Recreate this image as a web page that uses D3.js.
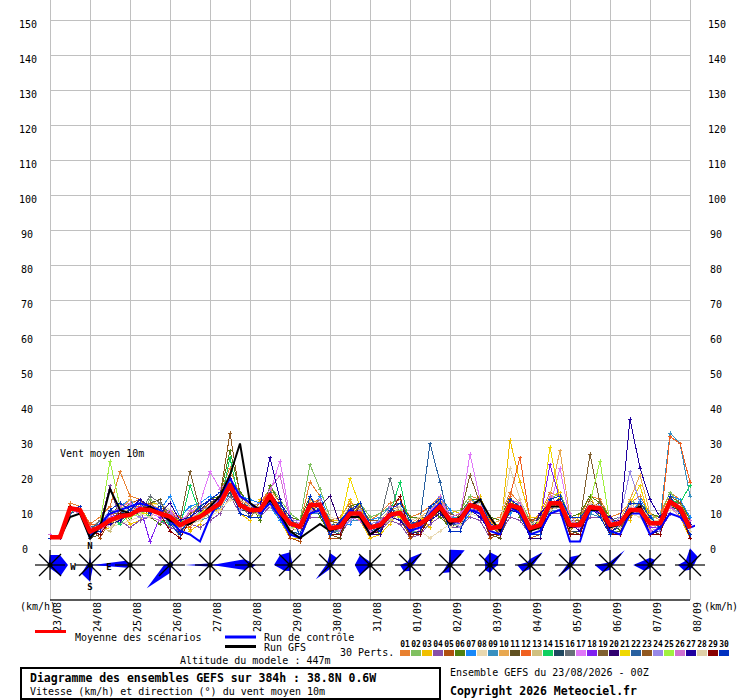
<!DOCTYPE html>
<html>
<head>
<meta charset="utf-8">
<script src="https://cdn.jsdelivr.net/npm/d3@7"></script>
<style>
body { margin: 0; background: #fff; }
svg { display: block; font-family: "DejaVu Sans Mono", monospace; }
</style>
</head>
<body>
<svg id="chart" width="740" height="700"></svg>
<script>
// echeances toutes les 6h, de 0 a 384h
var step = 6;
var dates = ['23/08','24/08','25/08','26/08','27/08','28/08','29/08','30/08','31/08',
             '01/09','02/09','03/09','04/09','05/09','06/09','07/09','08/09'];
var yTicks = [0,10,20,30,40,50,60,70,80,90,100,110,120,130,140,150];

// moyenne des scenarios (km/h)
var meanWind = [2.2, 2.2,10.5,10,3.8, 5.2,7.1,8.1,8.6, 10.2,10,9,8.1, 5.7,7.1,8.1,10, 11.9,17.1,11.4,10, 10,14.3,9.5,6.2, 5.2,11.4,11.4,4.8, 5.2,9,9,5, 5.7,8.6,9.2,5.2, 6,8.1,11,7.1, 7.1,11.4,10.5,4.8, 5.2,11.4,10.5,4.8, 5.7,11.9,11.9,5.7, 5.7,10.8,10.5,5.7, 6.2,10,10,6.2, 6.2,12.4,10.5,4.8];
var controlWind = [2, 2,10,10,2, 6,9,10,11, 12,11,10,7, 4,3,1,8, 13,19,14,12, 9,12,8,3, 2,9,10,4, 6,10,8,3, 5,8,9,4, 5,9,12,6, 7,10,9,4, 3,11,9,3, 4,9,10,1, 1,10,11,4, 3,9,9,3, 5,9,8,5, 6,13,10,4];
var gfsWind = [2, 2,8,9,2, 5,16,10,9, 10,11,9,7, 6,6,8,11, 14,20,29,12, 10,13,9,4, 2,4,6,4, 5,8,8,3, 5,9,9,5, 6,8,10,6, 8,11,13,8, 4,11,10,4, 5,11,11,5, 6,10,10,5, 6,9,11,6, 6,12,10,5];

// 30 perturbations
var perts = [
 [3, 2,12,11,6, 8,11,21,14, 13,10,11,9, 7,9,11,13, 15,22,14,11, 12,16,12,8, 6,18,14,7, 8,12,11,7, 9,12,13,8, 9,11,14,9, 10,14,13,7, 8,15,12,6, 9,15,14,8, 8,14,13,8, 9,12,14,9, 8,15,13,6],
 [2, 3,9,10,3, 4,10,6,12, 8,13,11,5, 4,10,12,9, 13,18,15,12, 8,17,13,9, 7,23,16,8, 3,7,12,8, 9,11,8,4, 4,6,13,9, 10,14,9,8, 7,9,13,7, 4,13,15,8, 8,12,8,4, 4,13,11,7, 9,15,12,8],
 [2, 2,11,9,4, 4,5,10,6, 7,12,12,10, 8,4,6,11, 9,20,9,7, 13,12,7,2, 2,8,14,7, 7,13,7,2, 3,6,10,6, 8,5,14,10, 9,8,14,7, 3,30,18,8, 8,14,15,4, 9,14,8,4, 8,7,13,4, 7,14,8,2],
 [2, 2,10,11,4, 6,17,7,5, 7,8,7,5, 4,6,5,7, 9,14,9,8, 8,11,8,4, 3,8,8,3, 3,7,7,3, 4,7,6,2, 3,6,8,5, 5,8,7,2, 3,8,7,3, 3,9,9,4, 4,8,8,3, 3,9,8,4, 4,9,8,3],
 [2, 3,11,10,5, 2,7,9,12, 13,10,9,9, 3,7,8,9, 13,20,11,9, 10,12,9,2, 1,12,11,2, 2,9,10,3, 3,10,9,2, 4,9,11,6, 8,12,11,2, 3,11,10,2, 3,12,11,3, 4,11,12,3, 4,10,11,3, 4,12,10,2],
 [2, 2,10,9,3, 6,9,11,7, 12,8,6,10, 7,5,10,13, 14,27,15,12, 7,17,12,8, 7,14,8,3, 6,11,12,6, 3,11,12,8, 8,10,8,5, 9,13,13,8, 7,14,8,3, 8,9,14,8, 9,14,12,8, 4,11,12,9, 8,11,13,7],
 [2, 2,9,10,4, 5,8,11,13, 9,12,10,14, 8,11,12,14, 10,15,14,13, 12,11,7,3, 4,9,14,7, 6,6,10,7, 8,11,7,3, 6,10,14,10, 5,9,12,7, 5,9,11,6, 7,10,13,8, 7,9,12,7, 6,8,13,9, 4,14,13,8],
 [3, 2,10,11,5, 7,5,6,7, 8,11,12,10, 7,9,10,8, 10,13,12,10, 11,11,11,7, 5,9,12,8, 7,11,8,4, 5,7,10,7, 4,2,4,6, 8,9,8,6, 7,10,11,6, 7,10,13,7, 6,9,8,4, 8,9,8,4, 7,10,9,6],
 [2, 2,11,10,4, 4,6,10,11, 12,9,8,6, 6,8,7,8, 13,15,10,11, 11,12,11,7, 6,9,9,4, 4,7,7,4, 8,11,11,6, 5,10,9,8, 8,13,12,7, 5,10,9,4, 5,10,10,5, 5,9,8,5, 5,12,11,7, 7,32,29,14],
 [2, 3,10,10,4, 7,9,10,13, 11,12,10,9, 5,6,9,11, 11,19,13,11, 9,16,12,7, 4,13,12,5, 6,11,10,6, 7,10,11,6, 8,10,13,8, 6,13,11,6, 7,13,11,6, 7,14,27,8, 7,12,11,7, 7,13,20,9, 7,13,12,6],
 [2, 2,10,9,2, 3,7,8,10, 10,12,13,6, 3,7,8,10, 12,18,12,11, 10,13,10,3, 2,11,11,3, 2,9,9,3, 4,9,9,3, 4,8,10,7, 5,11,10,3, 2,10,11,3, 4,12,12,4, 3,12,10,3, 4,10,10,4, 3,12,10,2],
 [2, 2,11,10,6, 6,9,8,11, 11,9,10,9, 8,5,9,12, 11,16,13,9, 12,15,9,5, 6,12,13,6, 4,10,8,3, 7,8,11,6, 5,9,10,6, 8,10,11,7, 5,14,25,7, 7,10,13,7, 5,12,9,4, 7,9,11,8, 5,31,29,18],
 [2, 2,10,10,4, 5,4,8,8, 11,11,8,7, 2,8,9,11, 10,17,12,9, 9,14,11,5, 4,12,12,6, 6,8,9,5, 5,7,8,4, 7,7,12,8, 6,12,9,4, 6,12,9,6, 5,13,11,7, 5,12,9,5, 7,9,9,5, 7,11,11,6],
 [2, 2,9,11,3, 5,8,6,9, 10,8,7,6, 5,17,9,10, 11,25,11,10, 10,15,10,5, 5,12,11,5, 5,8,9,5, 6,9,18,5, 6,8,10,6, 7,12,11,5, 6,11,10,4, 6,12,12,5, 5,11,11,5, 6,10,10,6, 6,13,12,17],
 [2, 2,10,10,3, 4,6,7,9, 9,10,10,7, 4,6,8,9, 12,15,10,10, 10,13,9,4, 3,10,10,4, 3,9,10,4, 4,10,9,4, 3,8,10,6, 5,10,10,3, 3,10,11,3, 4,11,12,4, 4,11,11,4, 5,11,9,4, 4,11,10,3],
 [2, 2,10,10,4, 7,6,7,11, 9,14,12,9, 6,9,10,8, 14,14,12,8, 11,14,11,7, 6,10,9,3, 5,10,11,6, 7,19,8,3, 7,9,12,6, 8,10,9,4, 6,12,11,6, 8,11,10,5, 7,10,9,7, 8,9,9,5, 7,11,12,6],
 [2, 2,10,10,4, 4,6,9,10, 11,9,8,10, 7,9,12,21, 16,19,13,11, 9,15,24,8, 6,12,10,4, 6,10,8,4, 5,8,10,6, 4,10,12,9, 8,26,13,6, 4,10,11,6, 7,11,22,7, 7,12,9,5, 7,11,9,5, 7,13,11,6],
 [3, 2,11,10,5, 6,8,9,8, 11,1,8,7, 5,7,9,11, 12,18,12,9, 11,14,9,5, 6,11,12,6, 4,8,10,4, 7,9,9,6, 5,9,10,8, 6,11,9,5, 6,10,11,4, 7,23,13,5, 5,10,9,7, 7,10,11,5, 5,11,11,6],
 [2, 2,10,11,4, 6,9,9,8, 9,11,10,9, 7,21,10,9, 13,20,11,9, 11,12,9,5, 4,10,13,6, 6,11,8,4, 5,8,11,6, 7,7,10,9, 8,20,12,6, 6,12,9,4, 5,11,13,7, 7,26,12,7, 5,9,11,7, 7,13,9,4],
 [2, 2,10,10,3, 5,7,9,10, 10,11,9,8, 4,7,8,10, 13,19,12,11, 10,14,10,3, 2,11,11,14, 6,9,10,3, 3,10,9,3, 4,9,12,7, 7,12,10,3, 3,11,10,2, 2,12,12,3, 3,11,11,3, 7,10,10,3, 4,12,10,2],
 [2, 2,10,9,4, 5,8,7,10, 9,9,10,8, 6,6,9,11, 11,17,10,11, 10,15,11,6, 4,10,12,6, 6,19,11,4, 5,9,8,4, 7,9,10,6, 6,10,11,6, 6,13,9,4, 7,28,13,7, 5,10,11,7, 5,12,17,7, 5,11,11,4],
 [2, 3,9,10,5, 6,7,9,10, 9,11,10,8, 7,8,8,9, 11,16,12,11, 9,15,11,5, 4,12,10,6, 6,10,8,4, 5,10,10,6, 7,29,18,6, 6,12,11,4, 6,10,9,6, 5,13,11,5, 7,10,11,5, 5,9,11,7, 7,11,9,6],
 [2, 2,11,10,5, 5,6,10,11, 10,12,9,7, 5,9,10,12, 14,32,14,9, 12,13,8,4, 5,9,12,7, 6,8,11,7, 7,8,7,3, 8,8,9,5, 9,11,12,6, 3,12,11,7, 8,11,10,4, 7,13,9,8, 5,8,12,7, 5,14,12,6],
 [2, 2,10,11,4, 6,10,10,9, 8,8,7,9, 6,6,10,11, 13,16,10,11, 12,12,9,7, 7,10,9,6, 4,7,10,6, 7,8,11,6, 5,10,10,8, 5,10,11,6, 4,10,12,6, 7,11,10,7, 5,12,9,5, 8,21,12,7, 4,11,9,6],
 [2, 3,10,10,4, 6,24,11,8, 9,10,9,8, 7,7,9,10, 12,18,11,10, 10,14,9,5, 5,12,11,5, 5,10,9,5, 6,9,10,5, 6,9,11,7, 7,12,10,6, 5,11,9,5, 6,11,12,6, 6,12,24,6, 6,10,9,6, 7,12,10,4],
 [3, 2,10,9,5, 3,8,11,12, 9,8,7,10, 5,10,7,9, 14,17,14,12, 9,16,20,7, 4,9,13,5, 5,8,7,4, 4,11,11,7, 5,8,14,8, 9,12,12,6, 4,13,12,5, 6,14,11,9, 4,10,11,7, 5,12,9,4, 5,11,8,7],
 [2, 2,10,10,4, 6,6,7,10, 13,11,9,12, 7,8,10,13, 13,17,12,9, 11,25,13,5, 4,11,9,3, 6,9,12,6, 5,8,7,4, 7,7,9,6, 8,10,8,4, 5,10,9,3, 9,12,13,6, 4,11,9,8, 6,36,22,13, 8,12,11,6],
 [2, 3,10,10,4, 6,5,8,11, 9,8,10,8, 6,6,7,9, 10,16,13,11, 11,12,9,5, 4,12,9,4, 7,8,9,6, 5,8,11,7, 8,9,10,5, 6,10,12,4, 5,22,13,6, 7,10,11,5, 6,12,11,5, 5,11,12,7, 7,12,11,4],
 [2, 2,11,10,4, 3,7,9,9, 10,10,9,4, 2,7,8,10, 12,17,11,10, 10,14,10,3, 2,11,11,3, 3,9,9,3, 4,9,14,3, 3,8,11,7, 7,11,10,3, 3,11,10,3, 3,12,12,3, 3,11,10,3, 3,10,11,3, 3,12,10,2],
 [2, 2,10,11,3, 4,10,12,10, 12,9,11,6, 3,8,11,13, 15,17,9,8, 8,13,12,8, 3,14,9,3, 7,10,12,6, 4,10,12,7, 5,11,13,4, 4,11,13,6, 5,13,11,3, 3,13,14,8, 8,11,8,3, 6,12,12,8, 5,14,9,3]
];
var pertColors = ['#e88030','#80c060','#f0c000','#8850a8','#b05010','#508010','#1888f8','#e8d8b0',
                  '#3890c0','#e8a850','#605020','#f06020','#d0c080','#10d060','#204860','#687078',
                  '#e078f8','#8020f0','#806030','#300070','#f0d800','#2860a0','#905820','#9888e8',
                  '#a0f040','#d070d0','#2000a0','#e0d0a8','#880000','#0030c0'];

// frequence des directions (%) a 00h chaque jour : N, NE, E, SE, S, SW, W, NW
var roseFreq = [
 [25,35,45,38,8,0,0,5],
 [20,5,8,10,42,30,8,5],
 [5,3,5,3,3,10,92,15],
 [10,10,8,5,20,82,15,5],
 [3,3,8,3,3,5,62,5],
 [8,5,15,8,5,18,95,20],
 [32,8,5,5,15,20,40,35],
 [30,25,8,3,10,50,10,10],
 [8,3,8,3,5,35,38,35],
 [18,42,8,3,15,22,25,10],
 [38,52,5,3,18,28,8,5],
 [32,30,20,12,20,18,12,20],
 [15,45,8,3,10,25,32,10],
 [20,35,8,3,8,42,8,5],
 [8,52,8,3,12,25,38,8],
 [18,18,8,3,8,20,42,18],
 [42,28,10,8,12,20,30,15]
];

var svg = d3.select('#chart');
var x = d3.scaleLinear().domain([0, 384]).range([50, 690]);
var y = d3.scaleLinear().domain([0, 150]).range([545, 20]);
var rScale = d3.scaleLinear().domain([0, 100]).range([0, 40]);
var dayHours = dates.map(function(d, i) { return i * 24; });
var roseY = 565;

// grille
var gridY = svg.append('g').attr('transform', 'translate(50,0)')
    .call(d3.axisLeft(y).tickValues(yTicks).tickSize(-640).tickFormat(''));
gridY.select('.domain').remove();
gridY.selectAll('line').attr('stroke', '#c0c0c0');

var gridX = svg.append('g').attr('transform', 'translate(0,600)')
    .call(d3.axisBottom(x).tickValues(dayHours).tickSize(-600).tickFormat(''));
gridX.select('.domain').remove();
gridX.selectAll('line').attr('stroke', '#c0c0c0');

svg.append('line').attr('x1', 50).attr('x2', 690).attr('y1', 600).attr('y2', 600)
    .attr('stroke', '#222').attr('stroke-width', 1.5);

// graduations gauche et droite
var axL = svg.append('g').attr('transform', 'translate(50,0)')
    .call(d3.axisLeft(y).tickValues(yTicks).tickSize(0));
axL.select('.domain').remove();
axL.selectAll('text')
    .attr('text-anchor', 'start')
    .attr('dy', null).attr('y', 7.5)
    .attr('x', function(d) { return d >= 100 ? -31 : (d >= 10 ? -29 : -28); })
    .style('font-family', '"DejaVu Sans Mono", monospace').style('font-size', '10px').attr('fill', '#000');

var axR = svg.append('g').attr('transform', 'translate(690,0)')
    .call(d3.axisRight(y).tickValues(yTicks).tickSize(0));
axR.select('.domain').remove();
axR.selectAll('text')
    .attr('text-anchor', 'start')
    .attr('dy', null).attr('y', 7.5)
    .attr('x', function(d) { return d >= 100 ? 18 : 20; })
    .style('font-family', '"DejaVu Sans Mono", monospace').style('font-size', '10px').attr('fill', '#000');

// dates
svg.append('g').selectAll('text').data(dates).enter().append('text')
    .attr('transform', function(d, i) { return 'translate(' + (x(dayHours[i]) + 10.5) + ',632) rotate(-90)'; })
    .attr('font-size', 10)
    .text(function(d) { return d; });

svg.append('text').attr('x', 20).attr('y', 610).attr('font-size', 10).text('(km/h)');
svg.append('text').attr('x', 704).attr('y', 610).attr('font-size', 10)
    .attr('letter-spacing', -0.4).text('(km/h)');

svg.append('text').attr('x', 60).attr('y', 457).attr('font-size', 10).text('Vent moyen 10m');

// courbes
svg.append('clipPath').attr('id', 'plotclip')
    .append('rect').attr('x', 45).attr('y', 0).attr('width', 650).attr('height', 547);
var plot = svg.append('g').attr('clip-path', 'url(#plotclip)');

var line = d3.line()
    .x(function(d, i) { return x(i * step); })
    .y(function(d) { return y(d); });

perts.forEach(function(serie, k) {
    var g = plot.append('g').attr('shape-rendering', 'crispEdges');
    g.append('path').datum(serie)
        .attr('d', line)
        .attr('fill', 'none')
        .attr('stroke', pertColors[k])
        .attr('stroke-width', 1);
    g.selectAll('path.mk').data(serie).enter().append('path')
        .attr('class', 'mk')
        .attr('transform', function(d, i) { return 'translate(' + x(i * step) + ',' + y(d) + ')'; })
        .attr('d', 'M-2,0H2M0,-2V2')
        .attr('stroke', pertColors[k])
        .attr('stroke-width', 1);
});

plot.append('path').datum(controlWind).attr('d', line)
    .attr('fill', 'none').attr('stroke', '#0000ff').attr('stroke-width', 2);
plot.append('path').datum(gfsWind).attr('d', line)
    .attr('fill', 'none').attr('stroke', '#000').attr('stroke-width', 2);
plot.append('path').datum(meanWind).attr('d', line)
    .attr('fill', 'none').attr('stroke', '#ff0000').attr('stroke-width', 4.5)
    .attr('stroke-linejoin', 'round');

// roses des vents
var radial = d3.lineRadial()
    .angle(function(d, j) { return j * Math.PI / 4; })
    .radius(function(d) { return rScale(d); })
    .curve(d3.curveLinearClosed);

var roses = svg.append('g').selectAll('g').data(roseFreq).enter().append('g')
    .attr('transform', function(d, i) { return 'translate(' + x(dayHours[i]) + ',' + roseY + ')'; });

roses.append('path').attr('d', radial).attr('fill', '#0000ff');
roses.each(function() {
    var g = d3.select(this);
    var segs = [[-15, 0, 15, 0], [0, -15, 0, 15], [-11, -11, 11, 11], [-11, 11, 11, -11]];
    segs.forEach(function(s) {
        g.append('line').attr('x1', s[0]).attr('y1', s[1]).attr('x2', s[2]).attr('y2', s[3])
            .attr('stroke', '#000').attr('stroke-width', 1.2);
    });
    g.append('circle').attr('r', 2.5).attr('fill', '#000');
});

// points cardinaux sur la 2eme rose
var card = [['N', 0, -16], ['S', 0, 25], ['W', -17, 5], ['E', 19, 5]];
svg.append('g').selectAll('text').data(card).enter().append('text')
    .attr('x', function(d) { return x(dayHours[1]) + d[1]; })
    .attr('y', function(d) { return roseY + d[2]; })
    .attr('text-anchor', 'middle')
    .attr('font-size', 9).attr('font-weight', 'bold')
    .text(function(d) { return d[0]; });

// legende
svg.append('line').attr('x1', 35).attr('x2', 66).attr('y1', 631.5).attr('y2', 631.5)
    .attr('stroke', '#ff0000').attr('stroke-width', 3);
svg.append('text').attr('x', 75).attr('y', 641).attr('font-size', 10).text('Moyenne des scénarios');
svg.append('line').attr('x1', 225).attr('x2', 256).attr('y1', 637).attr('y2', 637)
    .attr('stroke', '#0000ff').attr('stroke-width', 3);
svg.append('text').attr('x', 264).attr('y', 640.5).attr('font-size', 10).text('Run de contrôle');
svg.append('line').attr('x1', 225).attr('x2', 256).attr('y1', 646.5).attr('y2', 646.5)
    .attr('stroke', '#000').attr('stroke-width', 3);
svg.append('text').attr('x', 264).attr('y', 650.5).attr('font-size', 10).text('Run GFS');
svg.append('text').attr('x', 340).attr('y', 656).attr('font-size', 10).text('30 Perts.');
svg.append('text').attr('x', 180).attr('y', 664).attr('font-size', 10).text('Altitude du modele : 447m');

var pl = svg.append('g').selectAll('g').data(pertColors).enter().append('g')
    .attr('transform', function(d, k) { return 'translate(' + (400 + 11 * k) + ',0)'; });
pl.append('rect').attr('x', 0).attr('y', 650).attr('width', 10).attr('height', 6)
    .attr('fill', function(d) { return d; });
pl.append('text').attr('x', 5).attr('y', 647).attr('text-anchor', 'middle')
    .attr('font-size', 8).attr('font-weight', 'bold')
    .text(function(d, k) { return d3.format('02d')(k + 1); });

// cartouche
svg.append('rect').attr('x', 21).attr('y', 668).attr('width', 419).attr('height', 31)
    .attr('fill', 'none').attr('stroke', '#000').attr('stroke-width', 2);
svg.append('text').attr('x', 30).attr('y', 682).attr('font-size', 11.5).attr('font-weight', 'bold')
    .text('Diagramme des ensembles GEFS sur 384h : 38.8N 0.6W');
svg.append('text').attr('x', 30).attr('y', 695).attr('font-size', 10)
    .text('Vitesse (km/h) et direction (°) du vent moyen 10m');
svg.append('text').attr('x', 450).attr('y', 676).attr('font-size', 10)
    .text('Ensemble GEFS du 23/08/2026 - 00Z');
svg.append('text').attr('x', 450).attr('y', 695).attr('font-size', 11.5).attr('font-weight', 'bold')
    .text('Copyright 2026 Meteociel.fr');
</script>
</body>
</html>
